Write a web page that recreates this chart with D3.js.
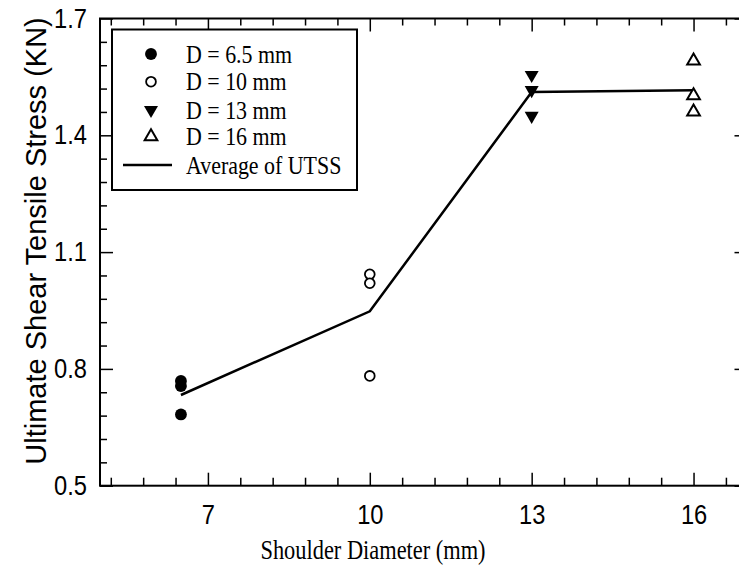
<!DOCTYPE html>
<html><head><meta charset="utf-8">
<script src="https://cdn.jsdelivr.net/npm/d3@7"></script>
<style>html,body{margin:0;padding:0;background:#fff;overflow:hidden}</style>
</head><body><svg id="c" width="739" height="571"></svg>
<script>
const xTicks = [7, 10, 13, 16];
const yTicks = [0.5, 0.8, 1.1, 1.4, 1.7];
const d65 = [0.769, 0.756, 0.683];
const d10 = [1.043, 1.020, 0.782];
const d13 = [1.555, 1.516, 1.450];
const d16 = [1.591, 1.502, 1.460];
const avgX = [6.5, 10, 13, 16];
const avgY = [0.733, 0.948, 1.511, 1.516];
const legendLabels = ["D = 6.5 mm", "D = 10 mm", "D = 13 mm", "D = 16 mm", "Average of UTSS"];

const SANS = '"Liberation Sans", Arial, sans-serif';
const SERIF = '"Liberation Serif", "Times New Roman", serif';
const SQ = 0.877; // horizontal squeeze of the original picture

const svg = d3.select("#c");
const L = 100, R = 747.5, T = 18.5, B = 485.7;
const x = d3.scaleLinear().domain([5, 17]).range([L, R]);
const y = d3.scaleLinear().domain([0.5, 1.7]).range([B, T]);

const xMinor = d3.range(5.2, 17, 0.6).filter(v => !xTicks.some(t => Math.abs(t - v) < 1e-6));
const yMinor = d3.range(0.56, 1.7, 0.06).filter(v => !yTicks.some(t => Math.abs(t - v) < 1e-6));

function styleAxis(g){ g.select(".domain").remove(); g.selectAll("line").attr("stroke","#000").attr("stroke-width",1.5); }
function squish(sel){
  sel.each(function(){
    const t = d3.select(this);
    const tx = +t.attr("x") || 0, ty = +t.attr("y") || 0;
    t.attr("x",0).attr("y",0).attr("transform",`translate(${tx},${ty}) scale(${SQ},1)`);
  });
}

// bottom
svg.append("g").attr("transform",`translate(0,${B})`)
  .call(d3.axisBottom(x).tickValues(xTicks).tickSize(-13).tickFormat(d3.format("d")).tickPadding(19))
  .call(styleAxis)
  .call(g=>g.selectAll("text").style("font-family",SANS).style("font-size","27px").attr("fill","#000").call(squish));
svg.append("g").attr("transform",`translate(0,${B})`)
  .call(d3.axisBottom(x).tickValues(xMinor).tickSize(-8).tickFormat(""))
  .call(styleAxis);
// top
svg.append("g").attr("transform",`translate(0,${T})`)
  .call(d3.axisTop(x).tickValues(xTicks).tickSize(-13).tickFormat(""))
  .call(styleAxis);
svg.append("g").attr("transform",`translate(0,${T})`)
  .call(d3.axisTop(x).tickValues(xMinor).tickSize(-7).tickFormat(""))
  .call(styleAxis);
// left
svg.append("g").attr("transform",`translate(${L},0)`)
  .call(d3.axisLeft(y).tickValues(yTicks).tickSize(-13).tickFormat(d3.format(".1f")).tickPadding(13))
  .call(styleAxis)
  .call(g=>g.selectAll("text").style("font-family",SANS).style("font-size","27px").attr("fill","#000").call(squish));
svg.append("g").attr("transform",`translate(${L},0)`)
  .call(d3.axisLeft(y).tickValues(yMinor).tickSize(-7).tickFormat(""))
  .call(styleAxis);
// right
svg.append("g").attr("transform",`translate(${R},0)`)
  .call(d3.axisRight(y).tickValues(yTicks).tickSize(-13).tickFormat(""))
  .call(styleAxis);
svg.append("g").attr("transform",`translate(${R},0)`)
  .call(d3.axisRight(y).tickValues(yMinor).tickSize(-7).tickFormat(""))
  .call(styleAxis);

// frame
svg.append("rect").attr("x",L).attr("y",T).attr("width",R-L).attr("height",B-T)
  .attr("fill","none").attr("stroke","#000").attr("stroke-width",2);

// average line
svg.append("path").datum(avgX.map((v,i)=>[v,avgY[i]]))
  .attr("d", d3.line().x(d=>x(d[0])).y(d=>y(d[1])))
  .attr("fill","none").attr("stroke","#000").attr("stroke-width",2.5);

const sym = {
  circleF: d3.symbol().type(d3.symbolCircle).size(110),
  circleO: d3.symbol().type(d3.symbolCircle).size(75),
  triD: d3.symbol().type(d3.symbolTriangle).size(85),
  triU: d3.symbol().type(d3.symbolTriangle).size(70)
};
function drawMarker(g, type, cx, cy){
  if(type===0) g.append("path").attr("d",sym.circleF()).attr("transform",`translate(${cx},${cy})`).attr("fill","#000");
  if(type===1) g.append("path").attr("d",sym.circleO()).attr("transform",`translate(${cx},${cy})`).attr("fill","#fff").attr("stroke","#000").attr("stroke-width",1.8);
  if(type===2) g.append("path").attr("d",sym.triD()).attr("transform",`translate(${cx},${cy}) rotate(180)`).attr("fill","#000");
  if(type===3) g.append("path").attr("d",sym.triU()).attr("transform",`translate(${cx},${cy})`).attr("fill","#fff").attr("stroke","#000").attr("stroke-width",2);
}
const groups = [[6.5,d65],[10,d10],[13,d13],[16,d16]];
const pg = svg.append("g");
groups.forEach(([xv,vals],k)=>vals.forEach(v=>drawMarker(pg,k,x(xv),y(v))));

// legend
const lg = svg.append("g");
lg.append("rect").attr("x",112).attr("y",29.5).attr("width",245).attr("height",160.5)
  .attr("fill","#fff").attr("stroke","#000").attr("stroke-width",2);
const rowsY = [54, 81.7, 110, 136.7, 165];
legendLabels.forEach((t,i)=>{
  if(i<4) drawMarker(lg,i,151,rowsY[i]);
  else lg.append("line").attr("x1",123).attr("x2",172).attr("y1",rowsY[i]).attr("y2",rowsY[i]).attr("stroke","#000").attr("stroke-width",2.5);
  lg.append("text").attr("transform",`translate(186,${rowsY[i]+8.6}) scale(${SQ},1)`).text(t)
    .style("font-family",SERIF).style("font-size","25px").attr("fill","#000");
});

// titles
svg.append("text").attr("transform",`translate(46,241) rotate(-90)`).attr("text-anchor","middle")
  .style("font-family",SANS).style("font-size","29px").attr("fill","#000")
  .text("Ultimate Shear Tensile Stress (KN)");
svg.append("text").attr("transform",`translate(373,559) scale(0.8,1)`).attr("text-anchor","middle")
  .style("font-family",SERIF).style("font-size","28px").attr("fill","#000")
  .text("Shoulder Diameter (mm)");
</script></body></html>
